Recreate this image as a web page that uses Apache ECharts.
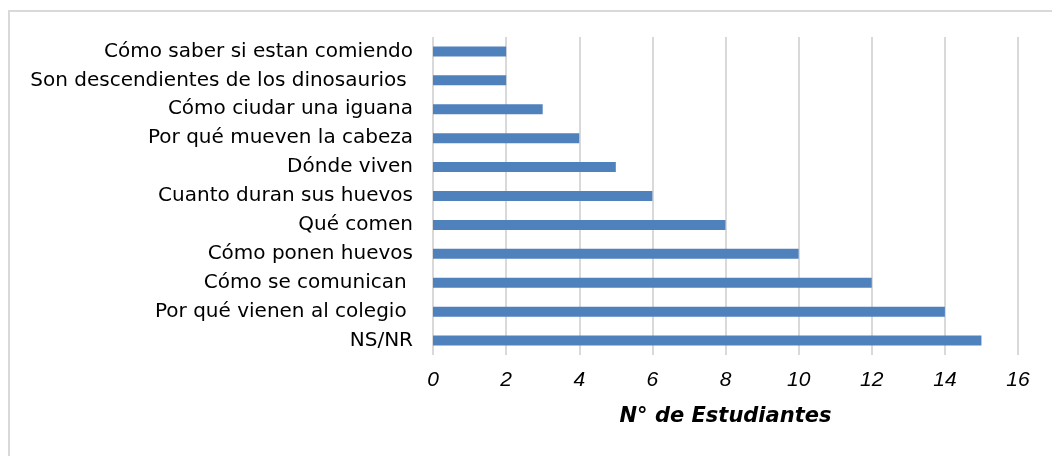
<!DOCTYPE html>
<html>
<head>
<meta charset="utf-8">
<script src="https://cdn.jsdelivr.net/npm/echarts@6/dist/echarts.min.js"></script>
<style>
    html, body { margin: 0; padding: 0; background: #fff; }
    #frame { position: absolute; left: 8px; top: 10px; width: 1100px; height: 500px; border: 2px solid #d9d9d9; box-sizing: border-box; }
    #chart { position: absolute; left: 0; top: 0; width: 1052px; height: 456px; }
</style>
</head>
<body>
<div id="frame"></div>
<div id="chart"></div>
<script>
    // categorias (de abajo hacia arriba, como en el eje)
    var categorias = ['NS/NR', 'Por qué vienen al colegio ', 'Cómo se comunican ', 'Cómo ponen huevos', 'Qué comen',
        'Cuanto duran sus huevos', 'Dónde viven', 'Por qué mueven la cabeza', 'Cómo ciudar una iguana',
        'Son descendientes de los dinosaurios ', 'Cómo saber si estan comiendo'];
    var estudiantes = [15, 14, 12, 10, 8, 6, 5, 4, 3, 2, 2];
    var ticks = [0, 2, 4, 6, 8, 10, 12, 14, 16];

    var chart = echarts.init(document.getElementById('chart'), null, {renderer: 'canvas'});
    var option = {
        animation: false,
        textStyle: { fontFamily: 'DejaVu Sans, sans-serif' },
        grid: {
            left: 433,
            top: 37,
            width: 585,
            height: 318,
            containLabel: false
        },
        xAxis: {
            type: 'value',
            min: ticks[0],
            max: ticks[ticks.length - 1],
            interval: 2,
            name: 'N° de Estudiantes',
            nameLocation: 'middle',
            nameGap: 51,
            nameTextStyle: { fontSize: 21, fontStyle: 'italic', fontWeight: 'bold', color: '#000' },
            axisLine: { show: false },
            axisTick: { show: false },
            axisLabel: { fontSize: 21, fontStyle: 'italic', color: '#000', margin: 15, fontFamily: 'Liberation Sans, Arial, sans-serif' },
            splitLine: { lineStyle: { color: '#d9d9d9', width: 2 } }
        },
        yAxis: {
            type: 'category',
            data: categorias,
            axisLine: { show: false },
            axisTick: { show: false },
            axisLabel: { fontSize: 20, color: '#000', margin: 20 }
        },
        series: [
            {
                type: 'bar',
                data: estudiantes,
                barWidth: 10,
                itemStyle: { color: '#4f81bd' }
            }
        ]
    };
    chart.setOption(option);
</script>
</body>
</html>
